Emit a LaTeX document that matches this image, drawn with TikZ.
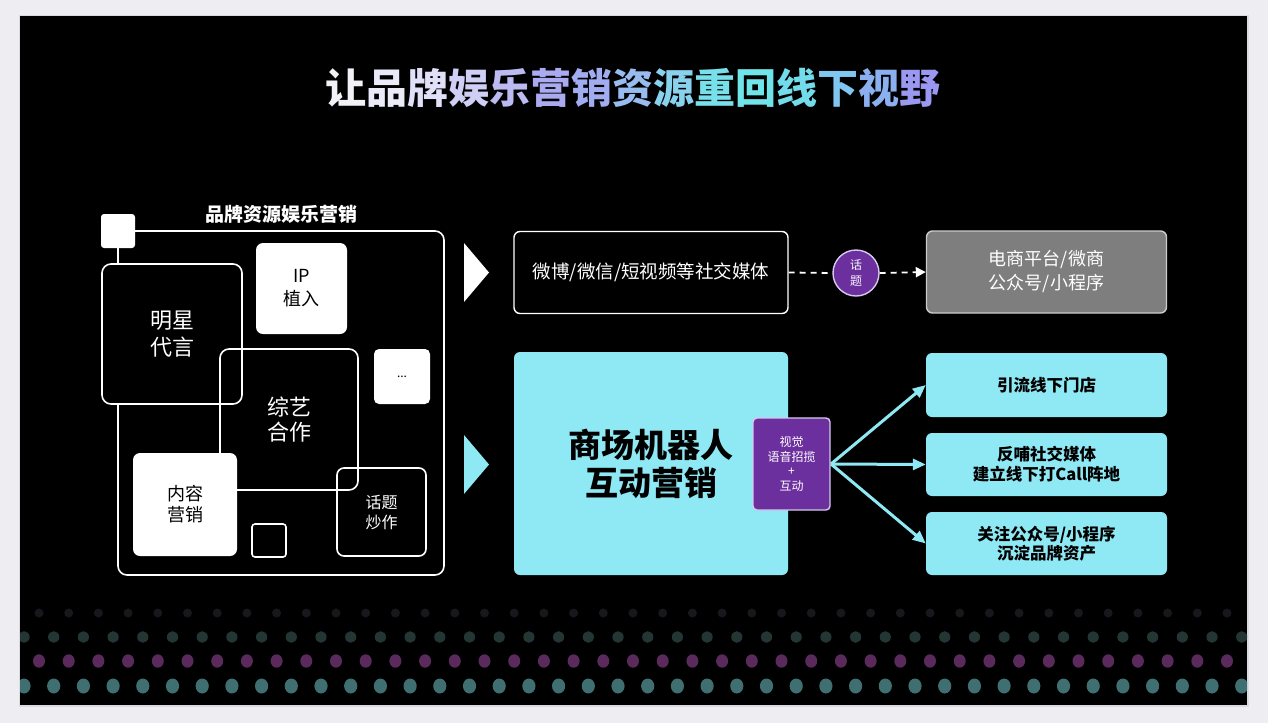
\documentclass[tikz,border=0pt]{standalone}
\usepackage{fontspec}
\setmainfont{Noto Sans CJK SC}
\usetikzlibrary{arrows.meta}
\definecolor{pagebg}{HTML}{EEEEF2}
\definecolor{cyanbox}{HTML}{8EE9F4}
\definecolor{purplebox}{HTML}{6B2F9E}
\definecolor{purpleedge}{HTML}{D6C8F0}
\definecolor{graybox}{HTML}{7E7E7E}
\definecolor{dotA}{HTML}{19161C}
\definecolor{dotB}{HTML}{233634}
\definecolor{dotC}{HTML}{5A2A5C}
\definecolor{dotD}{HTML}{3F6F70}
\definecolor{ta}{HTML}{F2F2F6}
\definecolor{tb}{HTML}{EAEAF8}
\definecolor{tc}{HTML}{E0E0F8}
\definecolor{td}{HTML}{CFCFF5}
\definecolor{te}{HTML}{BBBBF2}
\definecolor{tf}{HTML}{AAAAF0}
\definecolor{tg}{HTML}{A2ACF0}
\definecolor{th}{HTML}{98BCF0}
\definecolor{ti}{HTML}{88D2EE}
\definecolor{tj}{HTML}{78E0EA}
\definecolor{tk}{HTML}{70E4E8}
\definecolor{tl}{HTML}{72DCEA}
\definecolor{tm}{HTML}{80C6F0}
\definecolor{tn}{HTML}{8AB0F0}
\definecolor{to}{HTML}{9A98F0}
\tikzset{
  outline/.style={draw=white, line width=1.6pt, rounded corners=9pt, inner sep=0pt, align=center, text=white},
  whitebox/.style={fill=white, rounded corners=7pt, inner sep=0pt, align=center, text=black},
  mediabox/.style={draw=white, line width=1.4pt, fill=black, rounded corners=6pt, minimum width=274pt, minimum height=82pt, align=center, text=white, inner sep=0pt},
  greybox/.style={draw=white!80!black, line width=1.4pt, fill=graybox, rounded corners=6pt, minimum width=240pt, minimum height=82pt, align=center, text=white, inner sep=0pt},
  cyanb/.style={fill=cyanbox, rounded corners=6pt, align=center, text=black, inner sep=0pt},
  goal/.style={cyanb, minimum width=241pt, minimum height=63pt, font=\fontsize{16.5}{20}\selectfont\bfseries},
  cyanarrow/.style={draw=cyanbox, line width=3pt, -{Triangle[length=13pt,width=11pt]}},
  dasharrow/.style={draw=white, line width=1.8pt, dash pattern=on 6pt off 5pt}
}
\begin{document}
\begin{tikzpicture}[x=1pt,y=-1pt]
\useasboundingbox (0,0) rectangle (1268,723);
\fill[pagebg] (0,0) rectangle (1268,723);
\fill[black!25, opacity=0.4] (19,15) rectangle (1249,707);
\fill[black] (20,16) rectangle (1247,705);

% dots
\begin{scope}
\clip (20,16) rectangle (1247,705);
\foreach \k in {0,...,40} {
  \fill[dotA] ({39+29.7*\k},613) ellipse (4.5pt and 4.5pt);
  \fill[dotC] ({39+29.7*\k},661) ellipse (6pt and 6.7pt);
}
\foreach \k in {0,...,41} {
  \fill[dotB] ({24+29.7*\k},637) ellipse (5.6pt and 5.8pt);
  \fill[dotD] ({24+29.7*\k},686) ellipse (6.6pt and 7.5pt);
}
\end{scope}

% title
\node (title) at (633,88) {\fontsize{41}{41}\selectfont\bfseries
 \textcolor{ta}{让}\textcolor{tb}{品}\textcolor{tc}{牌}\textcolor{td}{娱}\textcolor{te}{乐}\textcolor{tf}{营}\textcolor{tg}{销}\textcolor{th}{资}\textcolor{ti}{源}\textcolor{tj}{重}\textcolor{tk}{回}\textcolor{tl}{线}\textcolor{tm}{下}\textcolor{tn}{视}\textcolor{to}{野}};

% left block
\node[text=white, font=\fontsize{19}{19}\selectfont\bfseries] (brandlabel) at (281,214) {品牌资源娱乐营销};
\node[outline, minimum width=326pt, minimum height=344pt] (outer) at (281,403) {};
\node[outline, fill=black, minimum width=140pt, minimum height=140pt, font=\fontsize{22}{27}\selectfont] (star) at (172,334) {明星\\代言};
\node[outline, minimum width=138pt, minimum height=141pt, font=\fontsize{22}{25}\selectfont] (variety) at (289,419.5) {综艺\\合作};
\node[outline, rounded corners=7pt, minimum width=89pt, minimum height=88pt, font=\fontsize{16}{20}\selectfont] (topic) at (381.5,512) {话题\\炒作};
\node[outline, rounded corners=3pt, minimum width=34pt, minimum height=33pt] (smallsq) at (269,540.5) {};
\node[whitebox, rounded corners=3pt, minimum width=34pt, minimum height=34pt] (corner) at (118,231) {};
\node[whitebox, minimum width=104pt, minimum height=103pt, font=\fontsize{18}{21}\selectfont] (content) at (185,504.5) {内容\\营销};
\node[whitebox, minimum width=91pt, minimum height=91pt, font=\fontsize{18}{23}\selectfont] (ip) at (301.5,288.5) {IP\\植入};
\node[whitebox, rounded corners=5pt, minimum width=56pt, minimum height=55pt, font=\fontsize{12}{12}\selectfont] (more) at (402,376.5) {...};

% play triangles
\fill[white] (464,243) -- (489,272.5) -- (464,302) -- cycle;
\fill[cyanbox] (464,435) -- (489,464.5) -- (464,494) -- cycle;

% top right row
\node[mediabox, font=\fontsize{18.5}{22}\selectfont] (media) at (651,272.5) {微博/微信/短视频等社交媒体};
\node[circle, draw=purpleedge, line width=1.4pt, fill=purplebox, minimum size=46pt, inner sep=0pt, text=white!85!purpleedge, align=center, font=\fontsize{12}{16}\selectfont] (huati) at (856,273) {话\\题};
\node[greybox, font=\fontsize{18}{24}\selectfont] (ecom) at (1046.5,272) {电商平台/微商\\公众号/小程序};
\draw[dasharrow] (media.east) -- (huati.west);
\draw[dasharrow, -{Triangle[length=10pt,width=10pt]}] (huati.east) -- (ecom.west);

% bottom right
\node[cyanb, minimum width=274pt, minimum height=223pt, font=\fontsize{33}{38}\selectfont\bfseries] (robot) at (651,463.5) {商场机器人\\互动营销};
\node[draw=purpleedge, line width=1.4pt, fill=purplebox, rounded corners=4pt, minimum width=77pt, minimum height=92pt, inner sep=0pt, text=white, align=center, font=\fontsize{12}{14.5}\selectfont] (interact) at (791.5,464) {视觉\\语音招揽\\+\\互动};
\node[goal, minimum height=64pt] (g1) at (1046.5,385) {引流线下门店};
\node[goal, font=\fontsize{16.5}{20}\selectfont\bfseries] (g2) at (1046.5,464.5) {反哺社交媒体\\建立线下打Call阵地};
\node[goal, font=\fontsize{16.5}{19}\selectfont\bfseries] (g3) at (1046.5,543.5) {关注公众号/小程序\\沉淀品牌资产};
\coordinate (fan) at (831,464);
\draw[cyanarrow] (fan) -- (g1.west);
\draw[cyanarrow] (fan) -- (g2.west);
\draw[cyanarrow] (fan) -- (g3.west);
\end{tikzpicture}
\end{document}
